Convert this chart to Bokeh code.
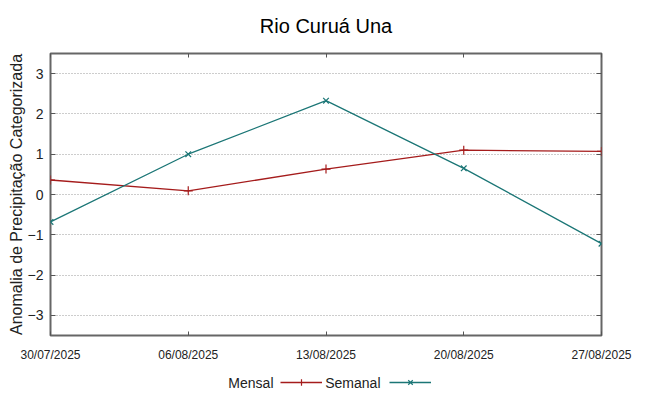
from datetime import datetime
from bokeh.plotting import figure
from bokeh.layouts import column
from bokeh.models import (LinearAxis, DatetimeAxis, FixedTicker, DatetimeTickFormatter,
                          Legend, LegendItem, Range1d, Label)
from bokeh.core.properties import value
from bokeh.embed import file_html
from bokeh.resources import INLINE

# ---- data ----
dates = ["30/07/2025", "06/08/2025", "13/08/2025", "20/08/2025", "27/08/2025"]
mensal = [0.36, 0.09, 0.63, 1.10, 1.07]
semanal = [-0.68, 1.00, 2.33, 0.65, -1.22]
y_ticks = [-3, -2, -1, 0, 1, 2, 3]
series_names = ["Mensal", "Semanal"]

title_text = "Rio Curuá Una"
y_label = "Anomalia de Precipitação Categorizada"

RED = "#a51c1c"
TEAL = "#1b7676"
FONT = "Liberation Sans"
TICK = "#555555"

x = [datetime.strptime(d, "%d/%m/%Y") for d in dates]
epoch = datetime(1970, 1, 1)
x_ms = [(d - epoch).total_seconds() * 1000 for d in x]

p = figure(width=640, height=365, output_backend="svg", toolbar_location=None,
           x_axis_type="datetime",
           x_range=Range1d(x_ms[0], x_ms[-1]), y_range=Range1d(-3.5, 3.5),
           min_border_left=50, min_border_right=39, min_border_top=52,
           min_border_bottom=30,
           background_fill_color="white", border_fill_color="white")

p.title.text = title_text
p.title.align = "center"
p.title.vertical_align = "top"
p.title.text_font = FONT
p.title.text_font_size = "20px"
p.title.text_font_style = "normal"
p.title.text_color = "#000000"
p.title.standoff = 29

p.outline_line_color = "#666666"
p.outline_line_width = 2

# y axis (left)
ya = p.yaxis[0]
ya.ticker = FixedTicker(ticks=y_ticks)
ya.major_tick_in = 5
ya.major_tick_out = 0
ya.minor_tick_in = 0
ya.minor_tick_out = 0
ya.axis_line_color = None
ya.major_tick_line_color = TICK
ya.major_label_text_font = FONT
ya.major_label_text_font_size = "14px"
ya.major_label_text_color = "#222222"
ya.major_label_standoff = 7
ya.axis_label = y_label
ya.axis_label_text_font = FONT
ya.axis_label_text_font_size = "16px"
ya.axis_label_text_font_style = "normal"
ya.axis_label_text_color = "#222222"
ya.axis_label_standoff = 0

# mirrored ticks (right), without labels
ra = LinearAxis(ticker=FixedTicker(ticks=y_ticks), major_tick_in=5, major_tick_out=0,
                minor_tick_in=0, minor_tick_out=0, axis_line_color=None,
                major_label_overrides={t: "" for t in y_ticks},
                major_label_standoff=0,
                major_tick_line_color=TICK)
p.add_layout(ra, "right")

# x axis
fmt = "%d/%m/%Y"
xa = p.xaxis[0]
xa.ticker = FixedTicker(ticks=x_ms)
xa.formatter = DatetimeTickFormatter(milliseconds=fmt, seconds=fmt, minsec=fmt,
                                     minutes=fmt, hourmin=fmt, hours=fmt, days=fmt,
                                     months=fmt, years=fmt)
xa.major_tick_in = 4
xa.major_tick_out = 0
xa.minor_tick_in = 0
xa.minor_tick_out = 0
xa.axis_line_color = None
xa.major_tick_line_color = TICK
xa.major_label_text_font = FONT
xa.major_label_text_font_size = "12px"
xa.major_label_text_color = "#222222"
xa.major_label_standoff = 12

# mirrored ticks (top), without labels
ta = DatetimeAxis(ticker=FixedTicker(ticks=x_ms), major_tick_in=4, major_tick_out=0,
                  minor_tick_in=0, minor_tick_out=0, axis_line_color=None,
                  major_label_overrides={t: "" for t in x_ms},
                  major_label_standoff=0,
                  major_tick_line_color=TICK)
p.add_layout(ta, "above")

p.xgrid.visible = False
p.ygrid.ticker = FixedTicker(ticks=y_ticks)
p.ygrid.grid_line_color = "#9a9a9a"
p.ygrid.grid_line_dash = "1 2"
p.ygrid.grid_line_width = 1

p.line(x_ms, mensal, line_color=RED, line_width=1.3)
p.scatter(x_ms, mensal, marker="cross", size=9, line_color=RED, line_width=1.2)
p.line(x_ms, semanal, line_color=TEAL, line_width=1.3)
p.scatter(x_ms, semanal, marker="x", size=8, line_color=TEAL, line_width=1.2)

# ---- key strip (gnuplot style: "Mensal" [sample]  "Semanal" [sample]) ----
# the key's renderers carry the same series (outside the strip's range, so
# only their legend samples show)
k = figure(width=640, height=31, output_backend="svg", toolbar_location=None,
           x_axis_location=None, y_axis_location=None,
           x_range=Range1d(0, 1), y_range=Range1d(0, 1),
           min_border_left=0, min_border_right=0, min_border_top=0,
           min_border_bottom=0, outline_line_color=None,
           background_fill_color="white", border_fill_color="white")
k.grid.visible = False
kl1 = k.line(x_ms, mensal, line_color=RED, line_width=1.3)
ks1 = k.scatter(x_ms, mensal, marker="cross", size=9, line_color=RED, line_width=1.2)
kl2 = k.line(x_ms, semanal, line_color=TEAL, line_width=1.3)
ks2 = k.scatter(x_ms, semanal, marker="x", size=8, line_color=TEAL, line_width=1.2)

legend = Legend(items=[LegendItem(label=value(""), renderers=[kl1, ks1]),
                       LegendItem(label=value(""), renderers=[kl2, ks2])],
                orientation="horizontal", location=(230, 6),
                glyph_width=42, glyph_height=16,
                label_standoff=0, label_width=0, label_height=16,
                spacing=67, padding=0, margin=0,
                border_line_color=None, background_fill_alpha=0)
k.add_layout(legend, "center")

# key texts, right-aligned just left of each sample (x relative to the frame)
for name, xr in zip(series_names, [223, 330]):
    k.add_layout(Label(x=xr, y=14, x_units="screen", y_units="screen", text=name,
                       text_align="right", text_baseline="middle",
                       text_font=FONT, text_font_size="14px",
                       text_color="#222222"))

layout = column(p, k, spacing=0)
open("out.html", "w").write(file_html(layout, INLINE))
